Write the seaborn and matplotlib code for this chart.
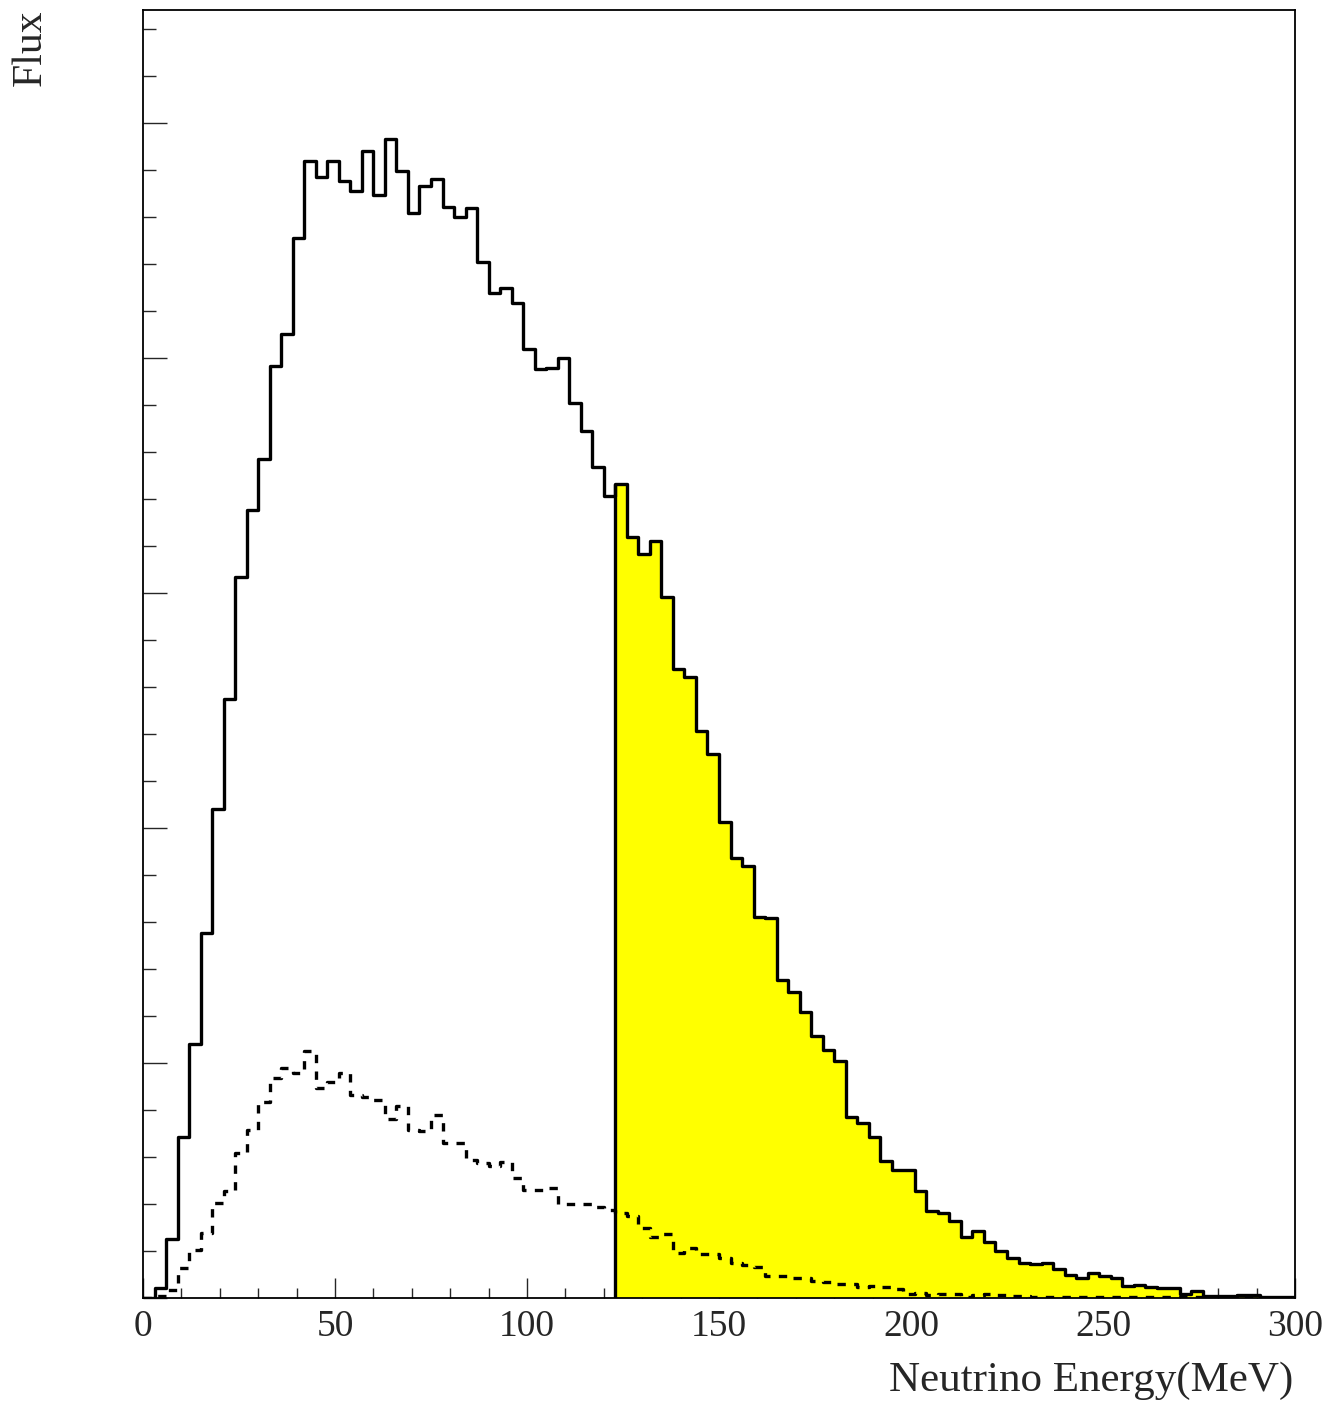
import numpy as np
import matplotlib
matplotlib.use("Agg")
import matplotlib.pyplot as plt
from matplotlib.ticker import MultipleLocator, NullFormatter
import seaborn as sns

# 100 bins of 3 MeV from 0 to 300 MeV
bin_edges = list(range(0, 303, 3))
bin_centers = [e + 1.5 for e in bin_edges[:-1]]
cut_energy = 123  # start of the shaded region

# total flux (solid histogram), arbitrary units
flux_total = [
    0, 43, 251, 685, 1081, 1553, 2081, 2549, 3068, 3353,
    3570, 3966, 4102, 4510, 4838, 4770, 4838, 4753, 4710, 4880,
    4693, 4932, 4795, 4617, 4732, 4761, 4642, 4600, 4638, 4408,
    4276, 4298, 4234, 4038, 3953, 3957, 4000, 3808, 3689, 3536,
    3413, 3464, 3238, 3166, 3221, 2983, 2676, 2642, 2413, 2315,
    2025, 1872, 1838, 1621, 1617, 1353, 1302, 1217, 1115, 1055,
    1008, 770, 745, 685, 583, 545, 545, 455, 370, 362,
    328, 260, 285, 238, 200, 170, 149, 145, 149, 123,
    98, 85, 106, 94, 85, 51, 55, 47, 43, 43,
    17, 30, 9, 9, 9, 13, 13, 4, 4, 4,
]

# second component (dashed histogram)
flux_dashed = [
    0, 9, 34, 128, 204, 277, 404, 455, 617, 715,
    834, 936, 979, 957, 1051, 894, 919, 957, 864, 855,
    843, 762, 817, 715, 711, 779, 660, 660, 587, 574,
    562, 579, 511, 460, 460, 468, 400, 400, 400, 387,
    374, 362, 349, 298, 260, 272, 191, 213, 187, 187,
    170, 149, 140, 132, 94, 94, 85, 85, 72, 68,
    60, 60, 47, 51, 47, 38, 17, 21, 13, 17,
    17, 4, 13, 17, 13, 8, 8, 6, 6, 6,
    6, 6, 6, 6, 6, 4, 4, 4, 4, 4,
    4, 4, 4, 2, 2, 2, 2, 2, 2, 2,
]

sns.set_style("ticks")
plt.rcParams['font.family'] = ['Liberation Serif', 'DejaVu Serif']

fig = plt.figure(figsize=(13.34, 14.06), dpi=100)
ax = fig.add_axes([143 / 1334, 1 - 1298 / 1406, 1152 / 1334, 1288 / 1406])

cut_bin = bin_edges.index(cut_energy)

# shaded high-energy part
sns.histplot(x=bin_centers[cut_bin:], weights=flux_total[cut_bin:],
             bins=bin_edges[cut_bin:], element='step', fill=True,
             color='#ffff00', alpha=1, linewidth=0, ax=ax)
ax.vlines(cut_energy, 0, flux_total[cut_bin], color='black', lw=2.4)

sns.histplot(x=bin_centers, weights=flux_total, bins=bin_edges,
             element='step', fill=False, color='black', linewidth=2.4, ax=ax)
sns.histplot(x=bin_centers, weights=flux_dashed, bins=bin_edges,
             element='step', fill=False, color='black', linewidth=2.4,
             linestyle=(0, (2.5, 2.5)), ax=ax)

ax.set_xlim(0, 300)
ax.set_ylim(0, 5481)

ax.xaxis.set_major_locator(MultipleLocator(50))
ax.xaxis.set_minor_locator(MultipleLocator(10))
ax.yaxis.set_major_locator(MultipleLocator(1000))
ax.yaxis.set_minor_locator(MultipleLocator(200))
ax.yaxis.set_major_formatter(NullFormatter())

ax.tick_params(axis='x', which='major', direction='in', length=14.5, width=1, labelsize=27, pad=8)
ax.tick_params(axis='x', which='minor', direction='in', length=7, width=1)
ax.tick_params(axis='y', which='major', direction='in', length=17, width=1)
ax.tick_params(axis='y', which='minor', direction='in', length=9, width=1)
ax.tick_params(top=False, right=False, which='both')

for spine in ax.spines.values():
    spine.set_linewidth(1.3)
    spine.set_color('black')

ax.set_xlabel('Neutrino Energy(MeV)', fontsize=31, loc='right')
ax.xaxis.set_label_coords(0.9985, -0.049)
ax.set_ylabel('Flux', fontsize=30, loc='top')
ax.yaxis.set_label_coords(-0.081, 1.0)

plt.savefig('out.png', dpi=100)
